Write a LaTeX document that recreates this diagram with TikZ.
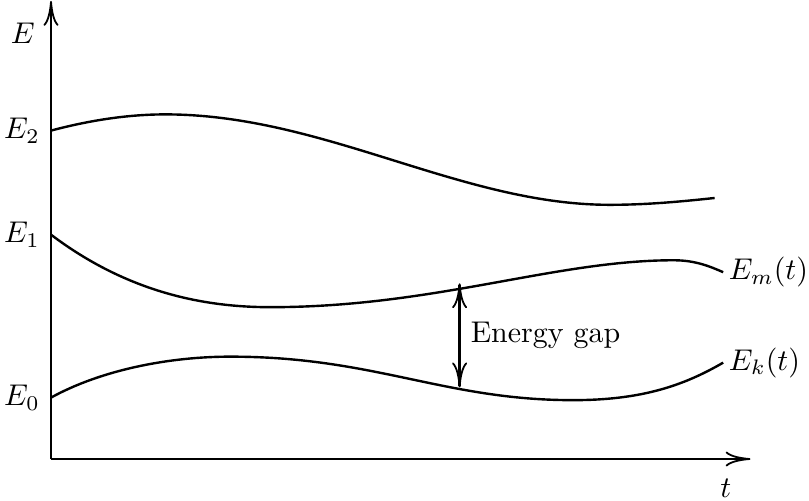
\documentclass[tikz,border=0pt]{standalone}
\usepackage{amsmath,amssymb}
\usepackage{tikz}
\usetikzlibrary{arrows.meta}

\tikzset{
  >={To[length=8.3pt,width=5pt,line width=0.6pt]},
  axis/.style={line width=0.8pt,->},
  level/.style={line width=0.8pt},
}

\begin{document}
\begin{tikzpicture}
\useasboundingbox (-0.598,-0.481) rectangle (8.886,5.381);

\coordinate (O) at (0,0);
\coordinate (Etop) at (0,5.37);
\coordinate (ttip) at (8.2,0);
\draw[axis] (O) -- (Etop);
\draw[axis] (O) -- (ttip);
\node (Elab) at (-0.33,4.99) {$E$};
\node (tlab) at (7.91,-0.34) {$t$};

\draw[level] (0,3.85) node[left] (E2) {$E_2$}
  .. controls (0.45,3.97) and (0.9,4.04) .. (1.34,4.04)
  .. controls (3.2,4.04) and (4.8,2.98) .. (6.55,2.98)
  .. controls (7.0,2.98) and (7.4,3.02) .. (7.78,3.06);

\draw[level] (0,2.63) node[left] (E1) {$E_1$}
  .. controls (0.9,1.95) and (1.8,1.78) .. (2.57,1.78)
  .. controls (4.5,1.78) and (5.9,2.33) .. (7.30,2.33)
  .. controls (7.55,2.33) and (7.72,2.26) .. (7.88,2.19)
  node[right,inner sep=1.5pt] (Em) {$E_m(t)$};

\draw[level] (0,0.72) node[left] (E0) {$E_0$}
  .. controls (0.6,1.05) and (1.4,1.2) .. (2.10,1.20)
  .. controls (3.8,1.20) and (4.6,0.69) .. (6.12,0.69)
  .. controls (6.9,0.69) and (7.4,0.85) .. (7.88,1.13)
  node[right,inner sep=1.5pt] (Ek) {$E_k(t)$};

\coordinate (gaptop) at (4.79,2.06);
\coordinate (gapbot) at (4.79,0.84);
\draw[level,<->] (gaptop) -- (gapbot) node[midway,right] (gap) {Energy gap};
\end{tikzpicture}
\end{document}
